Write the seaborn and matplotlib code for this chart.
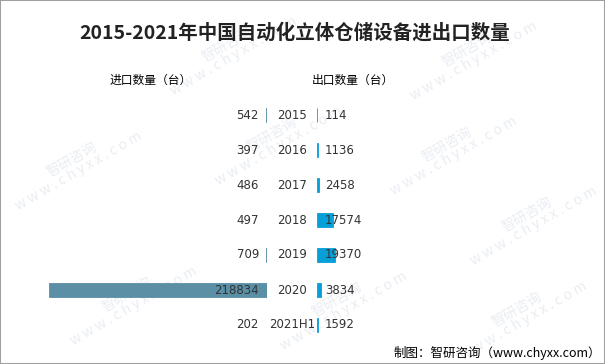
import numpy as np
import pandas as pd
import matplotlib
matplotlib.use("Agg")
import matplotlib.pyplot as plt
import seaborn as sns
from matplotlib.patches import Rectangle

years = ["2015", "2016", "2017", "2018", "2019", "2020", "2021H1"]
imports = [542, 397, 486, 497, 709, 218834, 202]
exports = [114, 1136, 2458, 17574, 19370, 3834, 1592]

sns.set_theme(style="white")
plt.rcParams['font.family'] = ['Noto Sans CJK SC', 'DejaVu Sans']

df = pd.DataFrame({"year": years, "imports": imports, "exports": exports})

W, H = 605, 364
fig = plt.figure(figsize=(W / 100, H / 100), dpi=100)
fig.patch.set_facecolor("white")

# faint watermarks
for (wx, wy) in [(230, 50), (470, 55), (75, 165), (275, 140), (450, 150),
                 (530, 220), (130, 300), (340, 305), (520, 315)]:
    fig.text(wx / W, 1 - wy / H, "智研咨询\nw w w . c h y x x . c o m", rotation=30,
             ha="center", va="center", fontsize=10, color="#e9edf2",
             zorder=0, linespacing=0.9)

# axes in pixel terms
top_px, row_px = 97.5, 35
bot = (H - (top_px + row_px * len(years))) / H
hgt = row_px * len(years) / H
ax_l = fig.add_axes([20 / W, bot, 247 / W, hgt], zorder=2)
ax_r = fig.add_axes([317 / W, bot, 280 / W, hgt], zorder=2)

c_imp = "#5a8fa6"
c_exp = "#079fd8"
txt = "#333333"

sns.barplot(data=df, x="imports", y="year", ax=ax_l, color=c_imp, width=0.4,
            saturation=1, edgecolor=c_imp, linewidth=0.6, orient="h")
sns.barplot(data=df, x="exports", y="year", ax=ax_r, color=c_exp, width=0.4,
            saturation=1, edgecolor=c_exp, linewidth=0.6, orient="h")

ax_l.set_xlim(248000, 0)
ax_r.set_xlim(0, 300000)
for ax in (ax_l, ax_r):
    ax.set_ylim(len(years) - 0.5, -0.5)
    ax.axis("off")
    ax.patch.set_alpha(0)

for i, (y, a, b) in enumerate(zip(years, imports, exports)):
    ax_l.annotate(str(a), xy=(0, i), xytext=(-5.8, 0), textcoords="offset points",
                  ha="right", va="center", fontsize=8.5, color=txt, family="DejaVu Sans")
    ax_r.annotate(str(b), xy=(0, i), xytext=(5.8, 0), textcoords="offset points",
                  ha="left", va="center", fontsize=8.5, color=txt, family="DejaVu Sans")
    ax_r.annotate(y, xy=(0, i), xytext=(-18, 0), textcoords="offset points",
                  ha="center", va="center", fontsize=8.5, color=txt, family="DejaVu Sans")

fig.text(295 / W, 1 - 33 / H, "2015-2021年中国自动化立体仓储设备进出口数量",
         ha="center", va="center", fontsize=14, fontweight="bold", color="#222222")
fig.text(151 / W, 1 - 80 / H, "进口数量（台）", ha="center", va="center",
         fontsize=8.5, color="black")
fig.text(353 / W, 1 - 80 / H, "出口数量（台）", ha="center", va="center",
         fontsize=8.5, color="black")
fig.text(601 / W, 1 - 353 / H, "制图：智研咨询（www.chyxx.com）", ha="right",
         va="center", fontsize=9, color="black")

fig.patches.append(Rectangle((0, 0), 1, 1, transform=fig.transFigure, fill=False,
                             edgecolor="#a0a0a0", linewidth=1.5))

fig.savefig("out.png", dpi=100)
